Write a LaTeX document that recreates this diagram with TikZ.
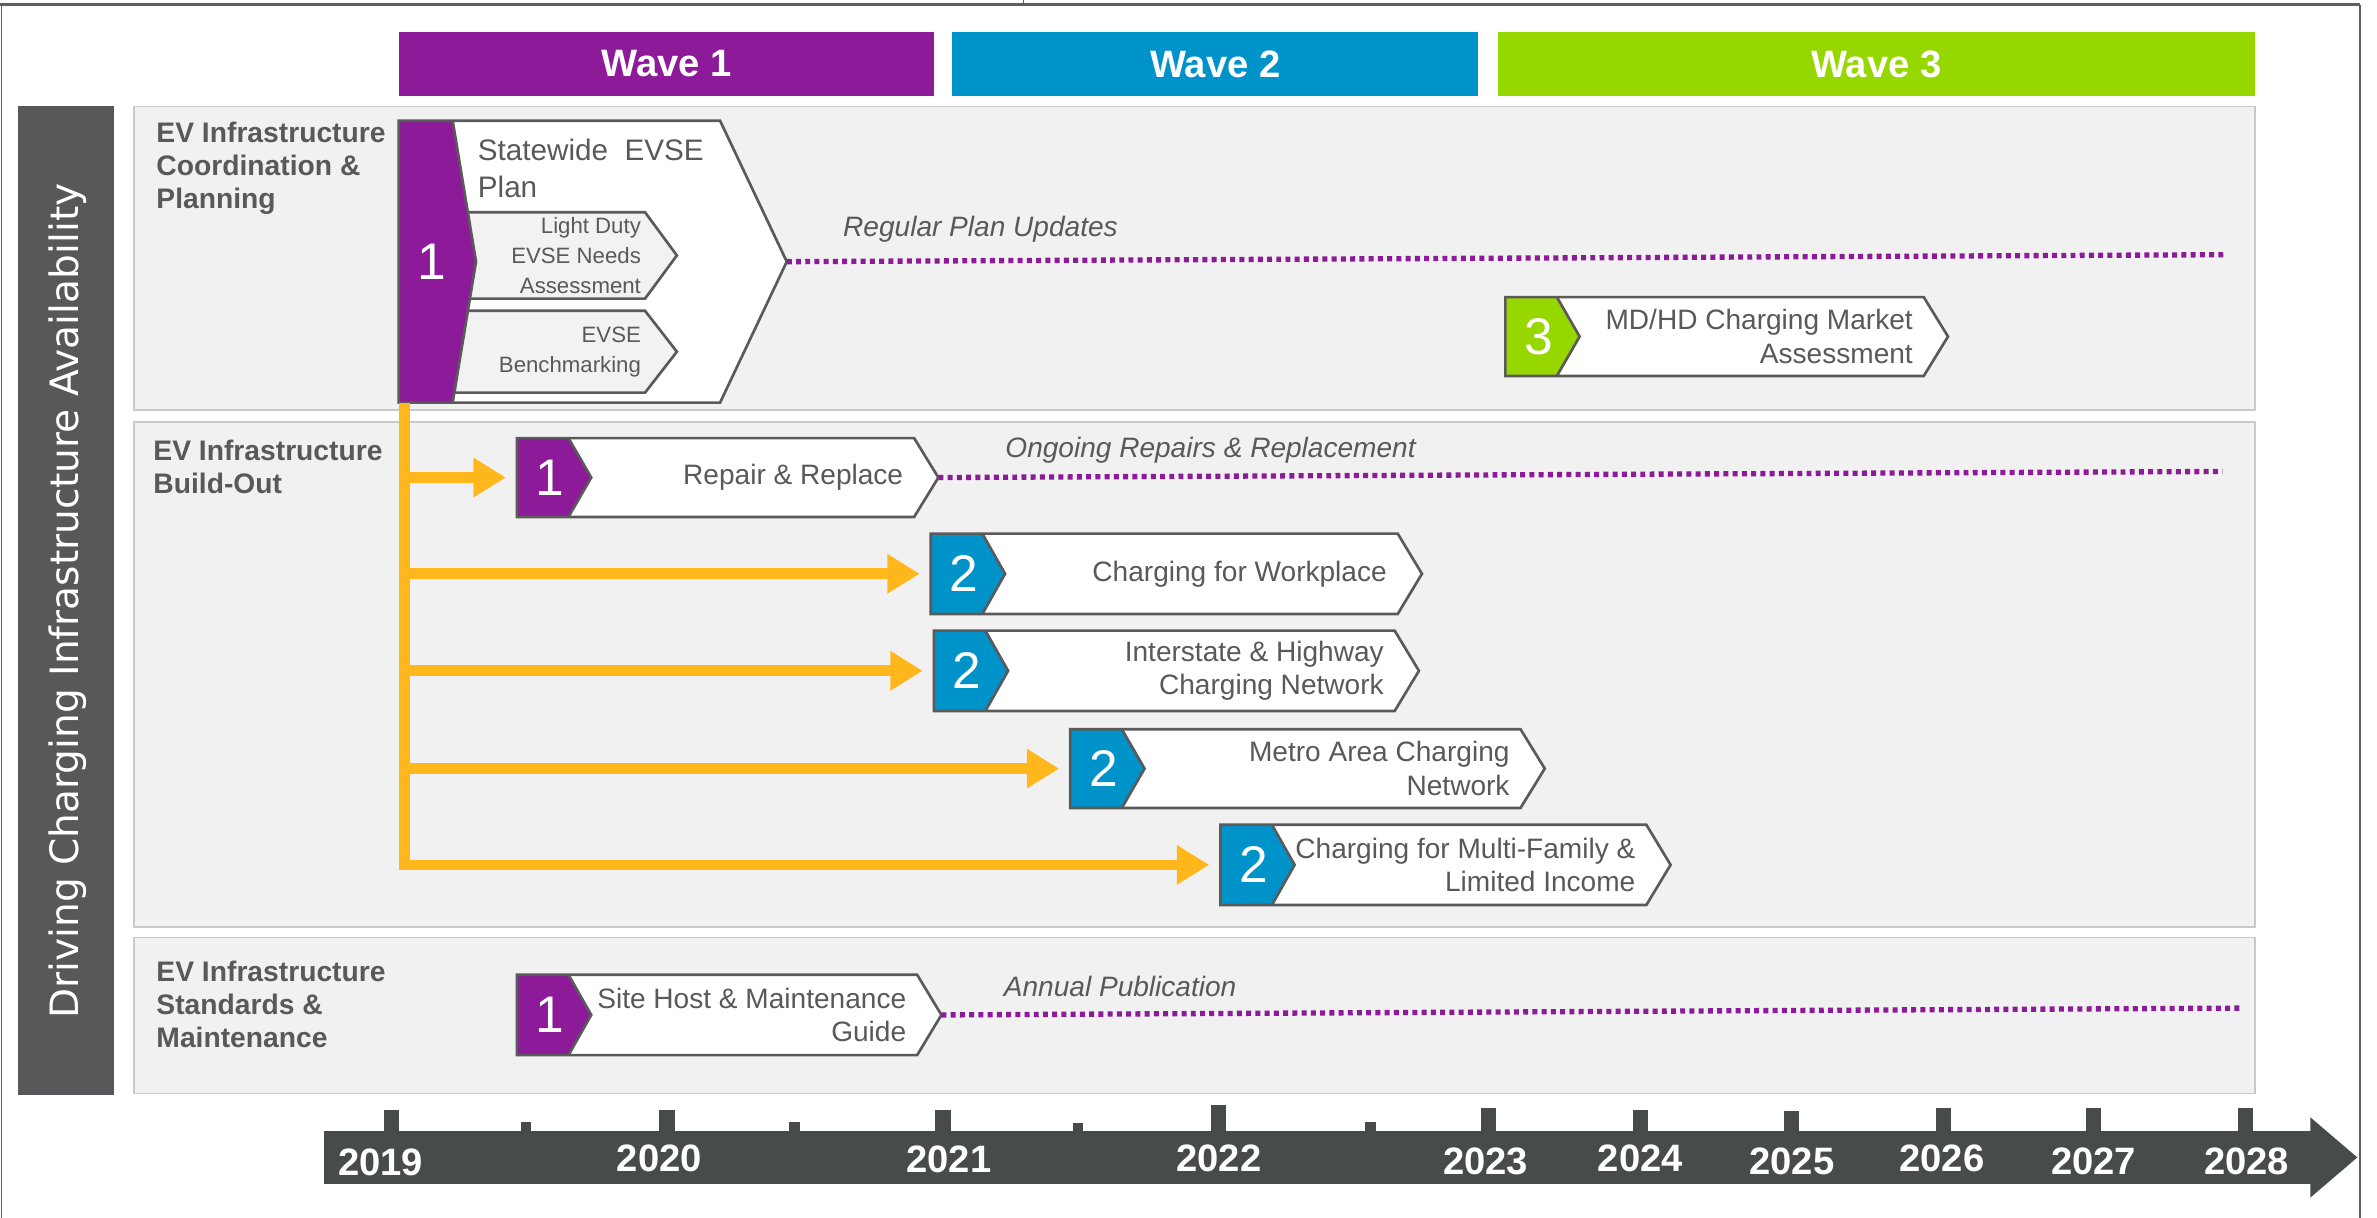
\documentclass[tikz,border=0pt]{standalone}
\usepackage{fontspec}
\setmainfont{Liberation Sans}
\newfontfamily\vfont{DejaVu Sans}
\usetikzlibrary{calc,arrows.meta}
\definecolor{framegray}{HTML}{5F5F5F}
\definecolor{wpurple}{HTML}{8C1A99}
\definecolor{wblue}{HTML}{0093C9}
\definecolor{wgreen}{HTML}{97D700}
\definecolor{barl}{HTML}{58585A}
\definecolor{tlgray}{HTML}{474B4A}
\definecolor{txtgray}{HTML}{595959}
\definecolor{outgray}{HTML}{5A5A5A}
\definecolor{panelfill}{HTML}{F1F1F1}
\definecolor{panelline}{HTML}{C9C9C9}
\definecolor{subfill}{HTML}{F2F2F2}
\definecolor{worange}{HTML}{FFB71C}
\tikzset{
 frame/.style={draw=framegray, line width=1.3pt},
 wave/.style={anchor=north west, inner sep=0, text=white, font=\fontsize{21.5}{24}\selectfont\bfseries},
 panel/.style={anchor=north west, inner sep=0, fill=panelfill, draw=panelline, line width=0.7pt},
 ptitle/.style={anchor=west, inner sep=0, align=left, text=txtgray, font=\fontsize{15.9}{18.8}\selectfont\bfseries},
 box/.style={anchor=north west, inner sep=0, outer sep=0},
 outl/.style={draw=outgray, line width=1.5pt, line join=miter},
 numtxt/.style={inner sep=0, text=white, font=\fontsize{29}{30}\selectfont},
 bodytxt/.style={anchor=east, inner sep=0, align=right, text=txtgray, font=\fontsize{15.8}{18.8}\selectfont},
 subtxt/.style={anchor=east, inner sep=0, align=right, text=txtgray, font=\fontsize{12.5}{17}\selectfont},
 itlab/.style={anchor=west, inner sep=0, text=txtgray, font=\fontsize{15.8}{18}\selectfont\itshape},
 dotl/.style={draw=wpurple, line width=3pt, dash pattern=on 2.8pt off 2.4pt},
 feed/.style={draw=worange, line width=6pt, -{Triangle[length=0.64cm,width=0.74cm]}, shorten >=0.22cm},
 year/.style={inner sep=0, text=white, font=\fontsize{21.5}{24}\selectfont\bfseries},
}
\def\tipl{16}
\def\blkw{34}
\def\notch{15}
% name, left, top, width, height, colour, number, text
\newcommand\chev[8]{%
  \node[box, minimum width=#4*0.03cm, minimum height=#5*0.03cm] (#1) at (#2,#3) {};
  \fill[white] (#1.north west) -- (#1.north east) -- ($(#1.east)+(\tipl,0)$) -- (#1.south east) -- (#1.south west) -- cycle;
  \fill[#6] (#1.north west) -- ($(#1.north west)+(\blkw,0)$) -- ($(#1.west)+(\blkw+\notch,0)$) -- ($(#1.south west)+(\blkw,0)$) -- (#1.south west) -- cycle;
  \draw[outl] ($(#1.north west)+(\blkw,0)$) -- ($(#1.west)+(\blkw+\notch,0)$) -- ($(#1.south west)+(\blkw,0)$);
  \draw[outl] (#1.north west) -- (#1.north east) -- ($(#1.east)+(\tipl,0)$) -- (#1.south east) -- (#1.south west) -- cycle;
  \coordinate (#1tip) at ($(#1.east)+(\tipl,0)$);
  \node[numtxt] (#1n) at ($(#1.west)+(22,0)$) {#7};
  \node[bodytxt] (#1t) at ($(#1.east)+(-7,0)$) {#8};
}
\begin{document}
\begin{tikzpicture}[x=0.03cm,y=-0.03cm]
\useasboundingbox (0,0) rectangle (1568,803.4);
\fill[white] (0,0) rectangle (1568,803.4);
% outer frame
\draw[frame, line width=1.1pt] (1,803.4) -- (1,3);
\draw[frame, line width=2pt] (0,3) -- (1557,3);
\draw[frame, line width=1.1pt] (1557,3) -- (1557,803.4);
\draw[frame, line width=0.8pt] (675,0) -- (675,3);
% waves
\node[wave, fill=wpurple, minimum width=10.59cm, minimum height=1.26cm] (w1) at (263,21) {Wave 1};
\node[wave, fill=wblue, minimum width=10.41cm, minimum height=1.26cm] (w2) at (628,21) {Wave 2};
\node[wave, fill=wgreen, minimum width=14.97cm, minimum height=1.26cm] (w3) at (988,21) {Wave 3};
% left bar
\node[box, fill=barl, minimum width=1.89cm, minimum height=19.56cm] (lbar) at (12,70) {};
\node[rotate=90, inner sep=0, text=white, font=\vfont\fontsize{22}{24}\selectfont] (lbl) at (45,396.5) {Driving Charging Infrastructure Availability};
% panels
\node[panel, minimum width=41.97cm, minimum height=6.0cm] (p1) at (88,70) {};
\node[panel, minimum width=41.97cm, minimum height=9.99cm] (p2) at (88,278) {};
\node[panel, minimum width=41.97cm, minimum height=3.09cm] (p3) at (88,618) {};
\node[ptitle] (t1) at (103,111) {EV Infrastructure\\Coordination \&\\Planning};
\node[ptitle] (t2) at (101,308) {EV Infrastructure\\Build-Out};
\node[ptitle] (t3) at (103,662.5) {EV Infrastructure\\Standards \&\\Maintenance};
% statewide plan
\node[box, minimum width=212*0.03cm, minimum height=186*0.03cm] (sw) at (263,79.6) {};
\fill[white] (sw.north west) -- (sw.north east) -- ($(sw.east)+(44,0)$) -- (sw.south east) -- (sw.south west) -- cycle;
\node[box, minimum width=125.5*0.03cm, minimum height=57*0.03cm] (ld) at (300,140) {};
\filldraw[outl, fill=subfill] (ld.north west) -- (ld.north east) -- ($(ld.east)+(21,0)$) -- (ld.south east) -- (ld.south west) -- cycle;
\node[box, minimum width=125.5*0.03cm, minimum height=54*0.03cm] (bm) at (300,205) {};
\filldraw[outl, fill=subfill] (bm.north west) -- (bm.north east) -- ($(bm.east)+(21,0)$) -- (bm.south east) -- (bm.south west) -- cycle;
\fill[wpurple] (sw.north west) -- ($(sw.north west)+(35.6,0)$) -- ($(sw.west)+(51,0)$) -- ($(sw.south west)+(35.6,0)$) -- (sw.south west) -- cycle;
\draw[outl] ($(sw.north west)+(35.6,0)$) -- ($(sw.west)+(51,0)$) -- ($(sw.south west)+(35.6,0)$);
\draw[outl] (sw.north west) -- (sw.north east) -- ($(sw.east)+(44,0)$) -- (sw.south east) -- (sw.south west) -- cycle;
\coordinate (swtip) at ($(sw.east)+(44,0)$);
\node[numtxt] (swn) at ($(sw.west)+(22,0)$) {1};
\node[anchor=west, inner sep=0, align=left, text=txtgray, font=\fontsize{16.7}{20.5}\selectfont] (swt) at (315,111) {Statewide\ \ EVSE\\Plan};
\node[subtxt] (ldt) at ($(ld.east)+(-2.5,0)$) {Light Duty\\EVSE Needs\\Assessment};
\node[subtxt] (bmt) at ($(bm.east)+(-2.5,0)$) {EVSE\\Benchmarking};
% other items
\chev{md}{993}{196}{276}{52}{wgreen}{3}{MD/HD Charging Market\\Assessment}
\chev{rr}{341}{289}{262}{52}{wpurple}{1}{Repair \& Replace}
\chev{wp}{614}{352}{308}{53}{wblue}{2}{Charging for Workplace}
\chev{ih}{616}{416}{304}{53}{wblue}{2}{Interstate \& Highway\\Charging Network}
\chev{ma}{706}{481}{297}{52}{wblue}{2}{Metro Area Charging\\Network}
\chev{mf}{805}{544}{281}{53}{wblue}{2}{Charging for Multi-Family \&\\Limited Income}
\chev{sh}{341}{643}{264}{53}{wpurple}{1}{Site Host \& Maintenance\\Guide}
% dotted continuations
\coordinate (e1) at (1468,168);
\coordinate (e2) at (1466,311);
\coordinate (e3) at (1478,665);
\draw[dotl] (swtip) -- (e1);
\draw[dotl] (rrtip) -- (e2);
\draw[dotl] (shtip) -- (e3);
\node[itlab] (l1) at (556,151) {Regular Plan Updates};
\node[itlab] (l2) at (663,297) {Ongoing Repairs \& Replacement};
\node[itlab] (l3) at (662,651) {Annual Publication};
% orange feeders
\coordinate (trunk) at ($(sw.south west)+(4,0)$);
\draw[feed] (trunk) |- (mf.west);
\draw[feed] (trunk |- rr.west) -- (rr.west);
\draw[feed] (trunk |- wp.west) -- (wp.west);
\draw[feed] (trunk |- ih.west) -- (ih.west);
\draw[feed] (trunk |- ma.west) -- (ma.west);
% timeline
\fill[tlgray] (214,746) rectangle (1527,781);
\fill[tlgray] (1524,737) -- (1555,763.5) -- (1524,790) -- cycle;
\foreach \x/\t/\w in {258/732/10, 347/740/7, 440/732/10, 524/740/7, 622/732/10, 711/741/7, 804/729/10, 904/740/7, 982/731/10, 1082/732/10, 1182/733/10, 1282/731/10, 1381/731/10, 1481/731/10}
  \fill[tlgray] (\x-\w/2,\t) rectangle (\x+\w/2,746.5);
\node[year] (y19) at (251,767) {2019};
\node[year] (y20) at (435,764) {2020};
\node[year] (y21) at (626,765) {2021};
\node[year] (y22) at (804,764) {2022};
\node[year] (y23) at (980,766) {2023};
\node[year] (y24) at (1082,764) {2024};
\node[year] (y25) at (1182,766) {2025};
\node[year] (y26) at (1281,764) {2026};
\node[year] (y27) at (1381,766) {2027};
\node[year] (y28) at (1482,766) {2028};
\end{tikzpicture}
\end{document}
